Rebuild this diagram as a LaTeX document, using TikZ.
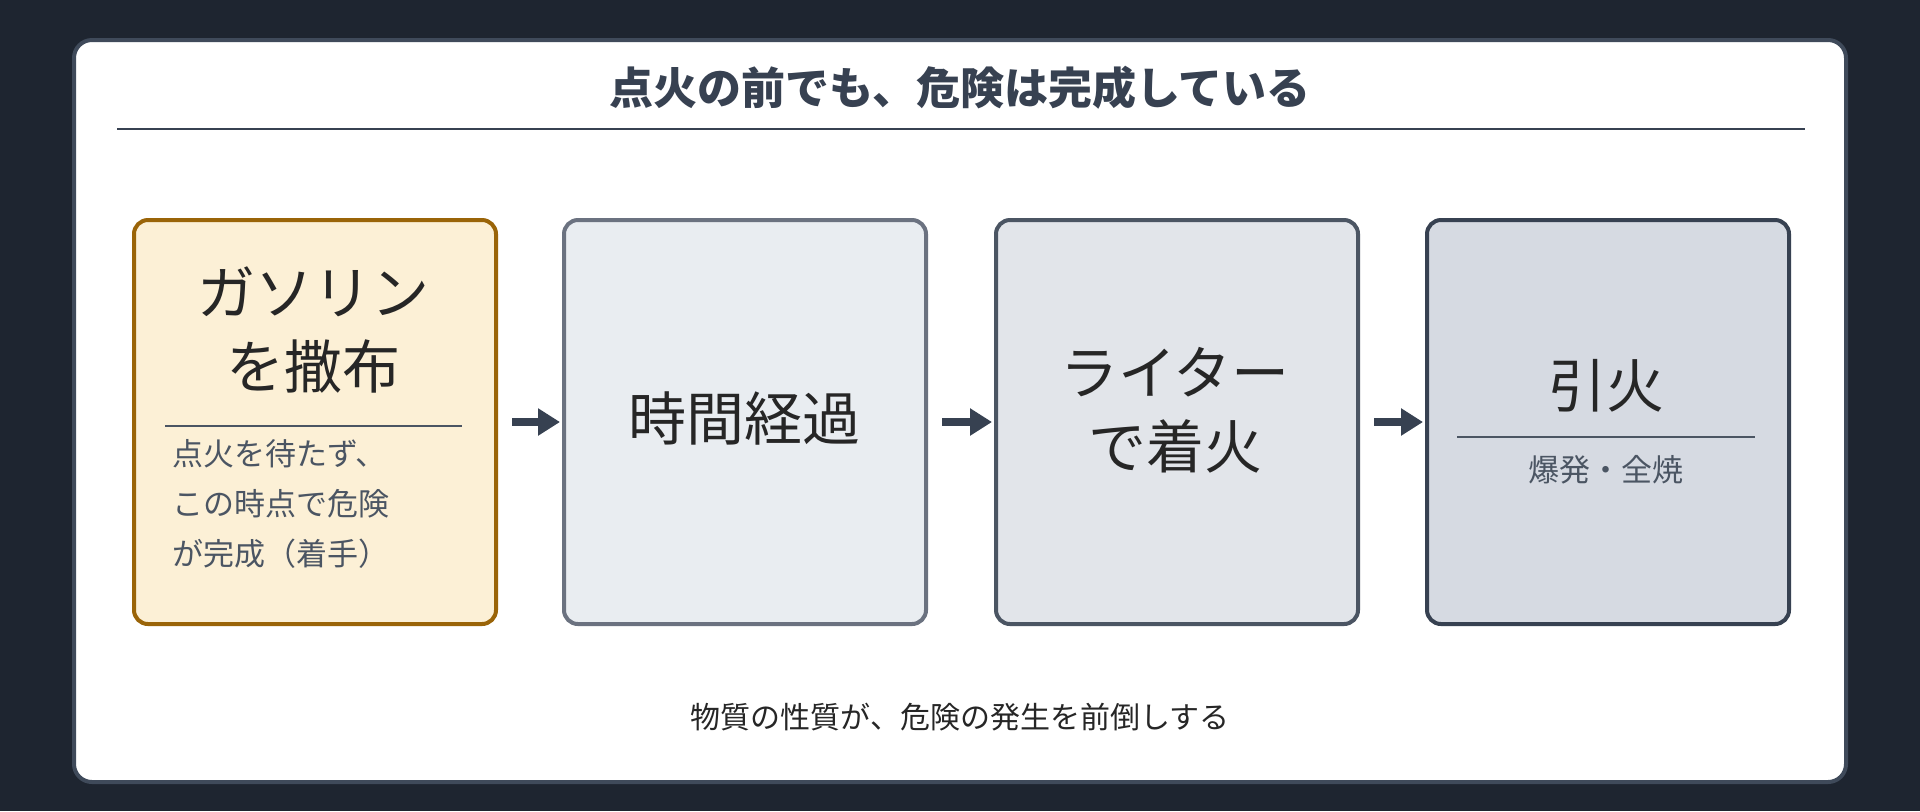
\documentclass[tikz,border=0pt]{standalone}
\usepackage{fontspec}
\setmainfont{Noto Sans CJK JP}
\usetikzlibrary{arrows.meta}
\definecolor{bgdark}{HTML}{1E2530}
\definecolor{frame}{HTML}{3F4A5A}
\definecolor{ink}{HTML}{374151}
\definecolor{sub}{HTML}{4B5563}
\definecolor{fillA}{RGB}{252,240,214}\definecolor{lineA}{RGB}{154,100,8}
\definecolor{fillB}{RGB}{233,237,241}\definecolor{lineB}{RGB}{107,114,128}
\definecolor{fillC}{RGB}{226,229,234}\definecolor{lineC}{RGB}{75,85,99}
\definecolor{fillD}{RGB}{214,218,226}\definecolor{lineD}{RGB}{55,65,81}
\begin{document}
\begin{tikzpicture}[x=0.5pt,y=0.5pt,yscale=-1,
  stage/.style={draw, rounded corners=7pt, line width=2pt, minimum width=181pt, minimum height=202pt, anchor=north west, inner sep=0pt},
  big/.style={font=\fontsize{29pt}{37pt}\selectfont, text=black!85, align=center},
  small/.style={font=\fontsize{15.5pt}{25pt}\selectfont, text=sub, align=left},
  flow/.style={-{Triangle[length=11pt,width=13pt]}, line width=4pt, color=ink}]
%background
\fill[bgdark] (0,0) rectangle (1920,811);
\draw[fill=white, draw=frame, line width=2pt, rounded corners=9pt] (74,40) rectangle (1846,782);

%title
\node (title) at (960,88) {\fontsize{22pt}{26pt}\selectfont\bfseries\color{ink}点火の前でも、危険は完成している};
\draw[ink, line width=1pt] (117,129) -- (1805,129);

%stages
\node[stage, fill=fillA, draw=lineA] (s1) at (132,218) {};
\node[stage, fill=fillB, draw=lineB] (s2) at (562,218) {};
\node[stage, fill=fillC, draw=lineC] (s3) at (994,218) {};
\node[stage, fill=fillD, draw=lineD] (s4) at (1425,218) {};

%texts
\node[big] (t1) at (313,330) {ガソリン\\を撒布};
\draw[sub, line width=1pt] (165,426) -- (462,426);
\node[small, anchor=north west] (n1) at (165,432) {点火を待たず、\\この時点で危険\\が完成（着手）};
\node[big] (t2) at (744,418) {時間経過};
\node[big] (t3) at (1175,410) {ライター\\で着火};
\node[big] (t4) at (1606,386) {引火};
\draw[sub, line width=1pt] (1457,437) -- (1755,437);
\node[small, align=center] (n4) at (1606,470) {爆発・全焼};

%arrows
\draw[flow, shorten <=7pt, shorten >=1pt] (s1.east) -- (s2.west);
\draw[flow, shorten <=7pt, shorten >=1pt] (s2.east) -- (s3.west);
\draw[flow, shorten <=7pt, shorten >=1pt] (s3.east) -- (s4.west);

%footer
\node (foot) at (960,717) {\fontsize{15pt}{18pt}\selectfont\color{black!85}物質の性質が、危険の発生を前倒しする};
\end{tikzpicture}
\end{document}
